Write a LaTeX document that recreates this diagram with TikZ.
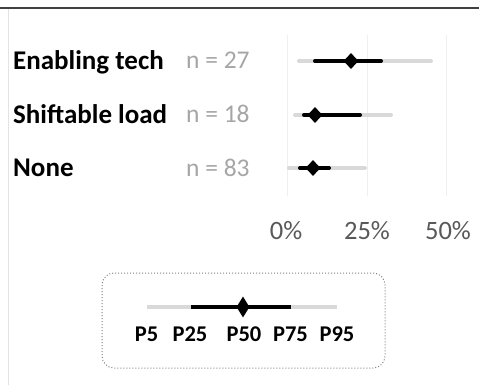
\documentclass[tikz,border=0pt]{standalone}
\usepackage{fontspec}
\setmainfont{Carlito}
\usetikzlibrary{shapes.geometric}
\definecolor{rulegray}{HTML}{404040}
\definecolor{leftgray}{HTML}{E3E3E3}
\definecolor{gridgray}{HTML}{EFEFEF}
\definecolor{bargray}{HTML}{D9D9D9}
\definecolor{ngray}{HTML}{A6A6A6}
\definecolor{axgray}{HTML}{595959}
\definecolor{boxgray}{HTML}{808080}
\tikzset{
  graybar/.style={line width=4pt, draw=bargray, line cap=round},
  blackbar/.style={line width=4pt, draw=black, line cap=round},
  lgraybar/.style={line width=4.5pt, draw=bargray, line cap=butt},
  lblackbar/.style={line width=4.5pt, draw=black, line cap=butt},
  med/.style={diamond, fill=black, inner sep=0pt, minimum width=15pt, minimum height=16pt},
  lmed/.style={diamond, fill=black, inner sep=0pt, minimum width=13pt, minimum height=21pt},
  rowlabel/.style={anchor=base west, inner sep=0pt, font=\fontsize{27}{32}\selectfont\bfseries},
  nlabel/.style={anchor=base west, inner sep=0pt, text=ngray, font=\fontsize{25.5}{30}\selectfont},
  axlabel/.style={anchor=base, inner sep=0pt, text=axgray, font=\fontsize{26.5}{31}\selectfont},
  leglabel/.style={anchor=base, inner sep=0pt, font=\fontsize{22.5}{27}\selectfont\bfseries},
  gridline/.style={line width=1pt, draw=gridgray},
}
\begin{document}
\begin{tikzpicture}[x=1pt, y=-1pt]
\useasboundingbox (0,0) rectangle (479,385);
% frame lines
\coordinate (tl) at (0,7.8);
\coordinate (tr) at (479,7.8);
\draw[line width=2.3pt, rulegray] (tl) -- (tr);
\coordinate (lt) at (8,9);
\coordinate (lb) at (8,385);
\draw[line width=1pt, leftgray] (lt) -- (lb);
% grid
\foreach \gx/\nm in {287/g0, 367/g25, 446/g50}{
  \coordinate (\nm t) at (\gx,35);
  \coordinate (\nm b) at (\gx,196);
  \draw[gridline] (\nm t) -- (\nm b);
}
% labels
\node[rowlabel] (l1) at (13,69.5) {Enabling tech};
\node[rowlabel] (l2) at (13,123.5) {Shiftable load};
\node[rowlabel] (l3) at (13,176.5) {None};
\node[nlabel] (n1) at (186,69) {n = 27};
\node[nlabel] (n2) at (186,123) {n = 18};
\node[nlabel] (n3) at (186,176) {n = 83};
% row 1
\coordinate (a5) at (299,61); \coordinate (a25) at (315,61);
\coordinate (a75) at (381,61); \coordinate (a95) at (431,61);
\draw[graybar] (a5) -- (a95);
\draw[blackbar] (a25) -- (a75);
\node[med] (a50) at (351,61) {};
% row 2
\coordinate (b5) at (295,115); \coordinate (b25) at (304,115);
\coordinate (b75) at (360,115); \coordinate (b95) at (391,115);
\draw[graybar] (b5) -- (b95);
\draw[blackbar] (b25) -- (b75);
\node[med] (b50) at (315,115) {};
% row 3
\coordinate (c5) at (289,168); \coordinate (c25) at (300,168);
\coordinate (c75) at (329,168); \coordinate (c95) at (365,168);
\draw[graybar] (c5) -- (c95);
\draw[blackbar] (c25) -- (c75);
\node[med] (c50) at (313,168) {};
% axis
\node[axlabel] (x0) at (286,239) {0\%};
\node[axlabel] (x25) at (367,239) {25\%};
\node[axlabel] (x50) at (448,239) {50\%};
% legend
\draw[boxgray, dotted, line width=1pt, rounded corners=12pt] (102,273) rectangle (385,368);
\coordinate (k5) at (147,307); \coordinate (k25) at (191,307);
\coordinate (k75) at (291,307); \coordinate (k95) at (337,307);
\draw[lgraybar] (k5) -- (k95);
\draw[lblackbar] (k25) -- (k75);
\node[lmed] (k50) at (243,307) {};
\node[leglabel] (t5) at (146.5,341) {P5};
\node[leglabel] (t25) at (190,341) {P25};
\node[leglabel] (t50) at (244,341) {P50};
\node[leglabel] (t75) at (290.5,341) {P75};
\node[leglabel] (t95) at (337,341) {P95};
\end{tikzpicture}
\end{document}
